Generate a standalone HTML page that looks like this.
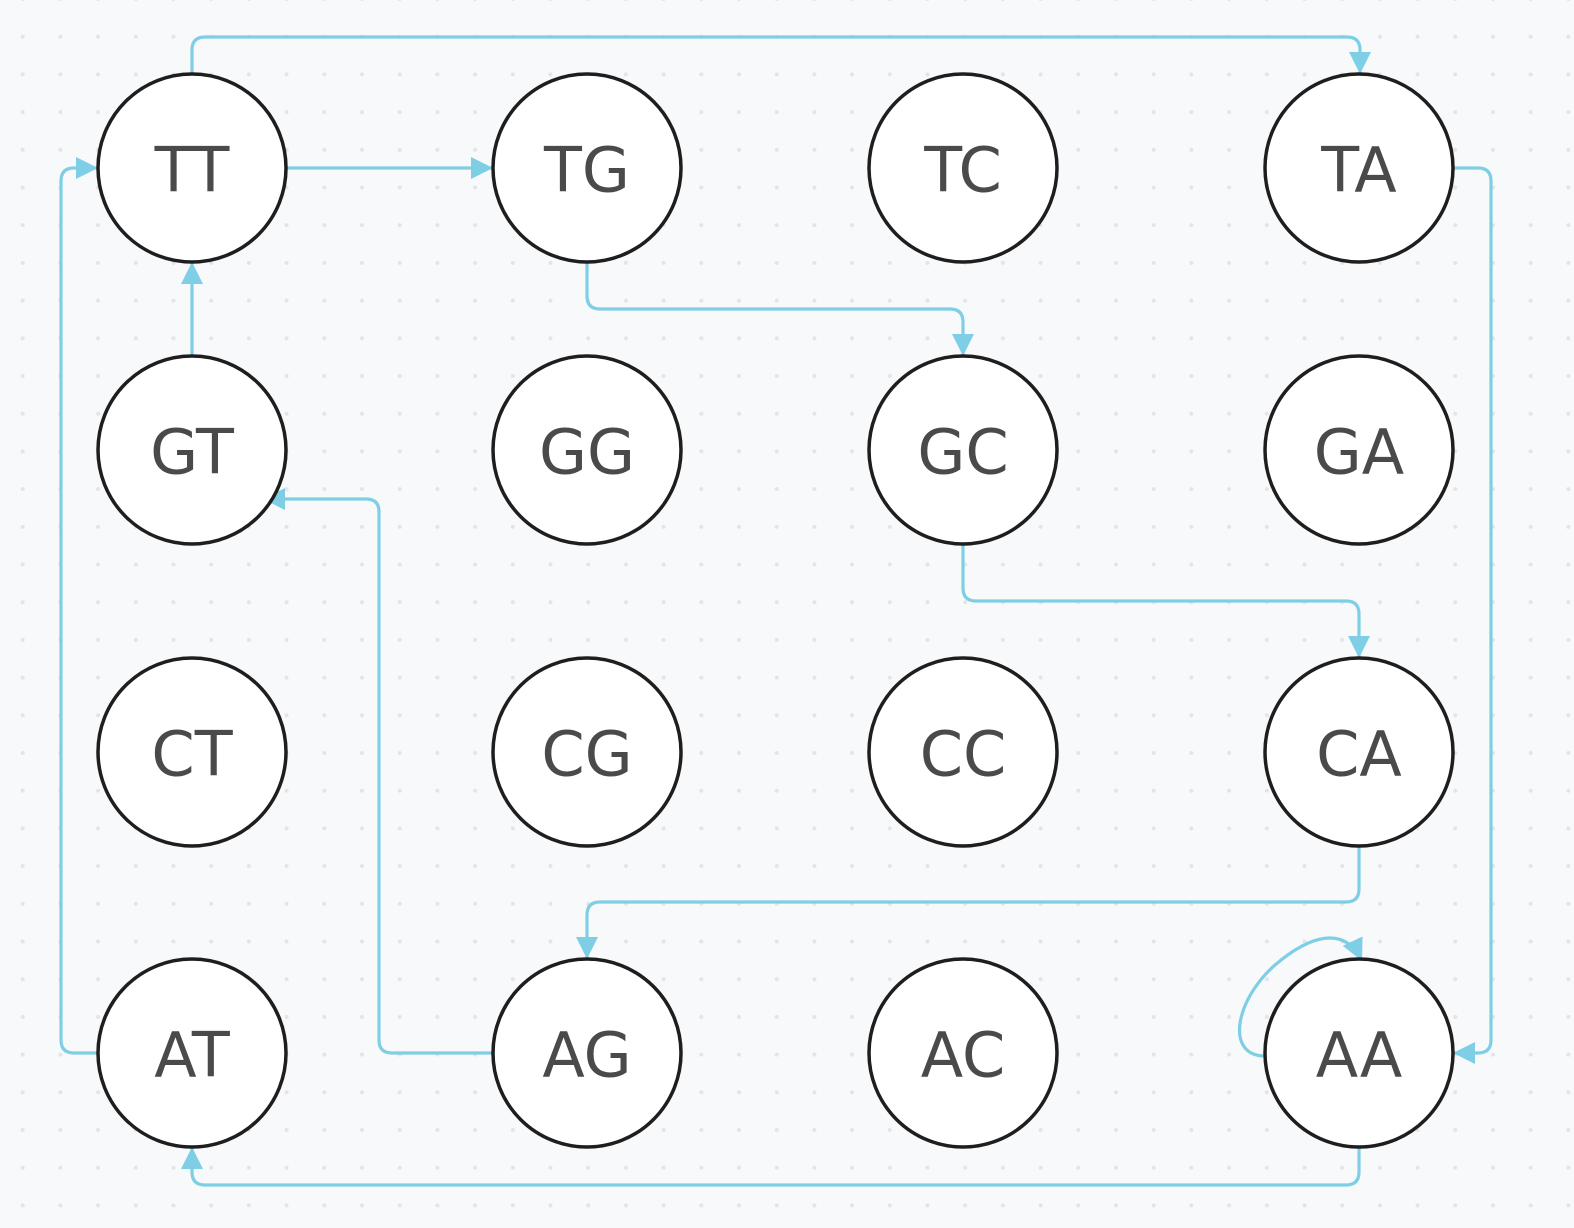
<!DOCTYPE html>
<html><head><meta charset="utf-8"><style>
html,body{margin:0;padding:0;background:#f8f9fb;}
svg{display:block}
text{font-family:"DejaVu Sans","Liberation Sans",sans-serif;font-size:62px;fill:#4a4a4a;text-anchor:middle;dominant-baseline:central}
</style></head><body>
<svg width="1574" height="1228" viewBox="0 0 1574 1228" xmlns="http://www.w3.org/2000/svg">
<defs>
<pattern id="dots" x="22.7" y="-1" width="37.7" height="37.7" patternUnits="userSpaceOnUse">
<circle cx="0" cy="0" r="2" fill="#e4e4e8"/>
<circle cx="37.7" cy="0" r="2" fill="#e4e4e8"/>
<circle cx="0" cy="37.7" r="2" fill="#e4e4e8"/>
<circle cx="37.7" cy="37.7" r="2" fill="#e4e4e8"/>
</pattern>
<marker id="a" viewBox="0 0 10 10" refX="10" refY="5" markerWidth="22" markerHeight="23" orient="auto" markerUnits="userSpaceOnUse">
<path d="M0,0 L10,5 L0,10 z" fill="#7ecfe6"/>
</marker>
</defs>
<rect width="1574" height="1228" fill="#f8f9fb"/>
<rect width="1574" height="1228" fill="url(#dots)"/>
<g fill="none" stroke="#7ecfe6" stroke-width="3.2" marker-end="url(#a)">
<path d="M192,74 V50 Q192,37 205,37 H1347 Q1360,37 1360,50 V74"/>
<path d="M286,168 H493"/>
<path d="M192,356 V262"/>
<path d="M98,1053 H74 Q61,1053 61,1040 V181 Q61,168 74,168 H98"/>
<path d="M587,262 V296 Q587,309 600,309 H950 Q963,309 963,322 V356"/>
<path d="M963,544 V588 Q963,601 976,601 H1346 Q1359,601 1359,614 V658"/>
<path d="M1359,846 V889 Q1359,902 1346,902 H600 Q587,902 587,915 V959"/>
<path d="M493,1053 H392 Q379,1053 379,1040 V512 Q379,499 366,499 H263"/>
<path d="M1453,168 H1478 Q1491,168 1491,181 V1040 Q1491,1053 1478,1053 H1453"/>
<path d="M1359,1147 V1172 Q1359,1185 1346,1185 H205 Q192,1185 192,1172 V1147"/>
<path d="M1265,1056 C1225,1056 1235,1000 1275,965 C1310,935 1345,925 1362,961"/>
</g>
<g fill="#fff" stroke="#1e1e1e" stroke-width="3.5">
<circle cx="192" cy="168" r="94"/><circle cx="587" cy="168" r="94"/><circle cx="963" cy="168" r="94"/><circle cx="1359" cy="168" r="94"/>
<circle cx="192" cy="450" r="94"/><circle cx="587" cy="450" r="94"/><circle cx="963" cy="450" r="94"/><circle cx="1359" cy="450" r="94"/>
<circle cx="192" cy="752" r="94"/><circle cx="587" cy="752" r="94"/><circle cx="963" cy="752" r="94"/><circle cx="1359" cy="752" r="94"/>
<circle cx="192" cy="1053" r="94"/><circle cx="587" cy="1053" r="94"/><circle cx="963" cy="1053" r="94"/><circle cx="1359" cy="1053" r="94"/>
</g>
<g>
<text x="192" y="170">TT</text><text x="587" y="170">TG</text><text x="963" y="170">TC</text><text x="1359" y="170">TA</text>
<text x="192" y="452">GT</text><text x="587" y="452">GG</text><text x="963" y="452">GC</text><text x="1359" y="452">GA</text>
<text x="192" y="754">CT</text><text x="587" y="754">CG</text><text x="963" y="754">CC</text><text x="1359" y="754">CA</text>
<text x="192" y="1055">AT</text><text x="587" y="1055">AG</text><text x="963" y="1055">AC</text><text x="1359" y="1055">AA</text>
</g>
</svg>
</body></html>
